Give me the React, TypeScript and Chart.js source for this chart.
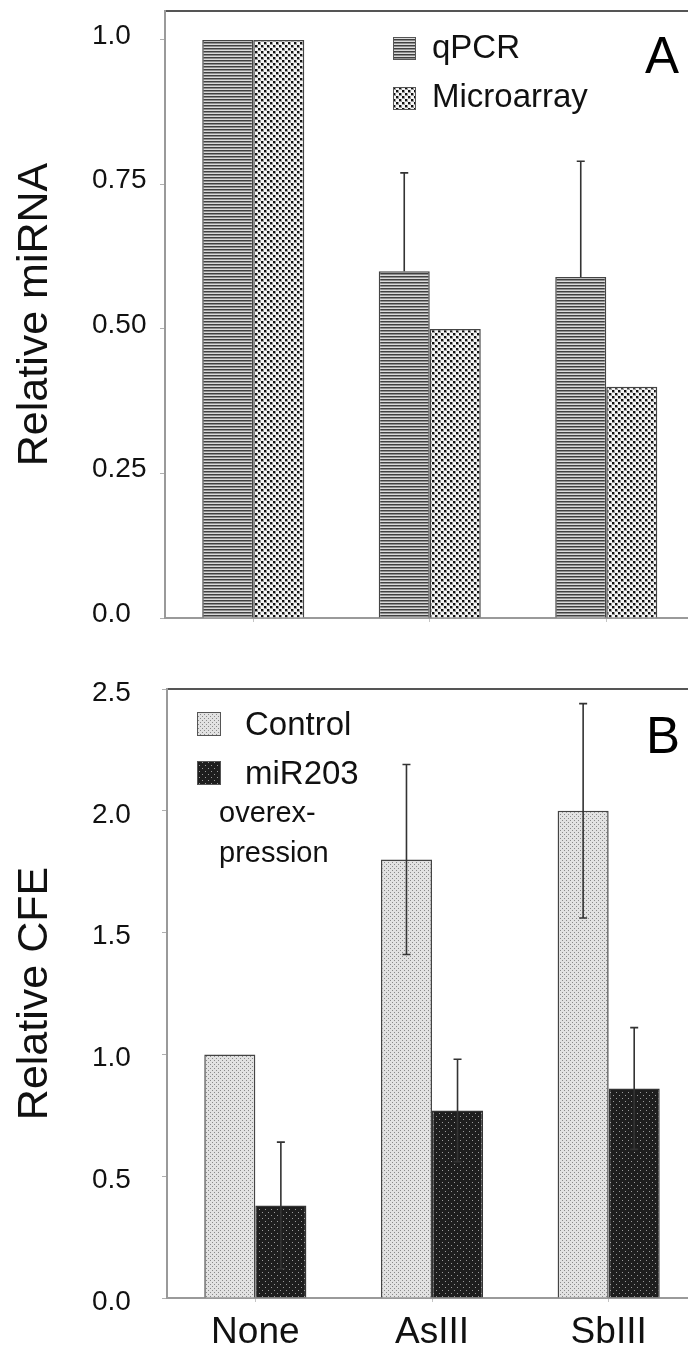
import React, { useEffect, useRef } from "react";
import { Chart, registerables } from "chart.js";

Chart.register(...registerables);

const FONT = "'Liberation Sans', Arial, Helvetica, sans-serif";

// ---------- data ----------
const categories = ["None", "AsIII", "SbIII"];

// Panel A
const qpcrValues = [1.0, 0.6, 0.59];
const qpcrErrors = [0, 0.17, 0.2];
const microarrayValues = [1.0, 0.5, 0.4];
const aTickValues = [0, 0.25, 0.5, 0.75, 1.0];
const aTickLabels = ["0.0", "0.25", "0.50", "0.75", "1.0"];

// Panel B
const controlValues = [1.0, 1.8, 2.0];
const controlErrors = [0, 0.39, 0.44];
const mir203Values = [0.38, 0.77, 0.86];
const mir203Errors = [0.26, 0.21, 0.25];
const bTickValues = [0, 0.5, 1.0, 1.5, 2.0, 2.5];
const bTickLabels = ["0.0", "0.5", "1.0", "1.5", "2.0", "2.5"];
const bLegendNote = ["overex-", "pression"];

// ---------- patterns ----------
function makePattern(w: number, h: number, draw: (c: CanvasRenderingContext2D) => void) {
  const cv = document.createElement("canvas");
  cv.width = w;
  cv.height = h;
  const c = cv.getContext("2d")!;
  draw(c);
  return c.createPattern(cv, "repeat")!;
}

function buildPatterns() {
  const stripes = makePattern(4, 3, (c) => {
    c.fillStyle = "#404040";
    c.fillRect(0, 0, 4, 1);
    c.fillStyle = "#8e8e8e";
    c.fillRect(0, 1, 4, 1);
    c.fillStyle = "#dadada";
    c.fillRect(0, 2, 4, 1);
  });
  const dots = makePattern(6, 6, (c) => {
    c.fillStyle = "#f6f6f6";
    c.fillRect(0, 0, 6, 6);
    c.fillStyle = "#9a9a9a";
    c.fillRect(0, 0, 3, 3);
    c.fillRect(3, 3, 3, 3);
    c.fillStyle = "#111";
    c.fillRect(0, 0, 2, 2);
    c.fillRect(3, 3, 2, 2);
  });
  const fine = makePattern(4, 4, (c) => {
    c.fillStyle = "#e2e2e2";
    c.fillRect(0, 0, 4, 4);
    c.fillStyle = "#8a8a8a";
    c.fillRect(0, 0, 1, 1);
    c.fillRect(2, 2, 1, 1);
  });
  const dark = makePattern(6, 6, (c) => {
    c.fillStyle = "#1e1e1e";
    c.fillRect(0, 0, 6, 6);
    c.fillStyle = "#9a9a9a";
    c.fillRect(1, 1, 1, 1);
    c.fillRect(4, 4, 1, 1);
  });
  return { stripes, dots, fine, dark };
}

// ---------- plugins ----------
const errorBarPlugin = {
  id: "errorBars",
  afterDatasetsDraw(chart: any) {
    const ctx = chart.ctx;
    const yScale = chart.scales.y;
    chart.data.datasets.forEach((ds: any, di: number) => {
      const errs = ds.errors;
      if (!errs) return;
      const meta = chart.getDatasetMeta(di);
      meta.data.forEach((bar: any, i: number) => {
        const e = errs[i];
        if (!e) return;
        const v = ds.data[i];
        const x = bar.x;
        const yTop = yScale.getPixelForValue(v + e);
        const yBot = ds.errorLower ? yScale.getPixelForValue(v - e) : yScale.getPixelForValue(v);
        ctx.save();
        ctx.strokeStyle = "#333";
        ctx.lineWidth = 1.6;
        ctx.beginPath();
        ctx.moveTo(x, yTop);
        ctx.lineTo(x, yBot);
        ctx.moveTo(x - 4, yTop);
        ctx.lineTo(x + 4, yTop);
        if (ds.errorLower) {
          ctx.moveTo(x - 4, yBot);
          ctx.lineTo(x + 4, yBot);
        }
        ctx.stroke();
        ctx.restore();
      });
    });
  },
};

function overlayPlugin(cfg: {
  swatches: { x: number; y: number; size: number }[];
  textX: number;
  textYs: number[];
  textSize: number;
  letter: string;
  letterX: number;
  letterY: number;
  notes?: { text: string; x: number; y: number; size: number }[];
}) {
  return {
    id: "overlay",
    afterDraw(chart: any) {
      const ctx = chart.ctx;
      ctx.save();
      chart.data.datasets.forEach((ds: any, i: number) => {
        const s = cfg.swatches[i];
        ctx.fillStyle = ds.backgroundColor;
        ctx.fillRect(s.x, s.y, s.size, s.size);
        ctx.strokeStyle = "#555";
        ctx.lineWidth = 1;
        ctx.strokeRect(s.x + 0.5, s.y + 0.5, s.size - 1, s.size - 1);
        ctx.fillStyle = "#111";
        ctx.font = `${cfg.textSize}px ${FONT}`;
        ctx.textAlign = "left";
        ctx.textBaseline = "middle";
        ctx.fillText(ds.label, cfg.textX, cfg.textYs[i]);
      });
      (cfg.notes || []).forEach((n) => {
        ctx.font = `${n.size}px ${FONT}`;
        ctx.textBaseline = "alphabetic";
        ctx.fillStyle = "#111";
        ctx.fillText(n.text, n.x, n.y);
      });
      ctx.font = `51px ${FONT}`;
      ctx.textBaseline = "alphabetic";
      ctx.fillStyle = "#000";
      ctx.fillText(cfg.letter, cfg.letterX, cfg.letterY);
      ctx.restore();
    },
  };
}

function baseScales(opts: {
  yMax: number;
  yTicks: number[];
  yLabels: string[];
  yTitle: string;
  yWidth: number;
  labelOffset: number;
  xHeight: number;
  showXLabels: boolean;
}) {
  return {
    x: {
      type: "category",
      position: "bottom",
      offset: true,
      grid: { display: true, drawOnChartArea: false, offset: false, tickLength: 4, color: "#c4c4c4" },
      border: { display: true, color: "#9a9a9a", width: 2 },
      ticks: {
        display: opts.showXLabels,
        color: "#111",
        padding: 9,
        font: { family: FONT, size: 37 },
        maxRotation: 0,
        autoSkip: false,
      },
      afterFit: (s: any) => {
        s.height = opts.xHeight;
        s.paddingLeft = 0;
        s.paddingRight = 0;
      },
    },
    xTop: {
      type: "category",
      position: "top",
      display: true,
      offset: true,
      grid: { display: false },
      ticks: { display: false },
      border: { display: true, color: "#555", width: 2 },
      afterFit: (s: any) => {
        s.height = 0;
        s.paddingLeft = 0;
        s.paddingRight = 0;
      },
    },
    y: {
      position: "left",
      min: 0,
      max: opts.yMax,
      afterBuildTicks: (s: any) => {
        s.ticks = opts.yTicks.map((v) => ({ value: v }));
      },
      ticks: {
        crossAlign: "far",
        color: "#111",
        font: { family: FONT, size: 28 },
        labelOffset: opts.labelOffset,
        callback: (v: number) => {
          const i = opts.yTicks.findIndex((t) => Math.abs(t - v) < 1e-9);
          return i >= 0 ? opts.yLabels[i] : "";
        },
      },
      grid: { drawOnChartArea: false, tickLength: 5, color: "#b0b0b0" },
      border: { display: true, color: "#9a9a9a", width: 2 },
      title: {
        display: true,
        text: opts.yTitle,
        color: "#111",
        font: { family: FONT, size: 43 },
        padding: { top: -83, bottom: 0 },
      },
      afterFit: (s: any) => {
        s.width = opts.yWidth;
        s.paddingTop = 0;
        s.paddingBottom = 0;
      },
    },
  };
}

export default function App() {
  const refA = useRef<HTMLCanvasElement>(null);
  const refB = useRef<HTMLCanvasElement>(null);

  useEffect(() => {
    Chart.defaults.font.family = FONT;
    const p = buildPatterns();

    const chartA = new Chart(refA.current!, {
      type: "bar",
      data: {
        labels: categories,
        datasets: [
          {
            label: "qPCR",
            data: qpcrValues,
            backgroundColor: p.stripes,
            borderColor: "#444",
            borderWidth: 1.5,
            errors: qpcrErrors,
            errorLower: false,
          } as any,
          {
            label: "Microarray",
            data: microarrayValues,
            backgroundColor: p.dots,
            borderColor: "#444",
            borderWidth: 1.5,
          } as any,
        ],
      },
      options: {
        animation: false,
        responsive: false,
        devicePixelRatio: 1,
        layout: { padding: { left: 92, right: 25.5, top: 11, bottom: 0 } },
        datasets: { bar: { categoryPercentage: 0.578, barPercentage: 1.0 } },
        plugins: { legend: { display: false }, tooltip: { enabled: false } },
        scales: baseScales({
          yMax: 1.05,
          yTicks: aTickValues,
          yLabels: aTickLabels,
          yTitle: "Relative miRNA",
          yWidth: 73,
          labelOffset: -4,
          xHeight: 32,
          showXLabels: false,
        }) as any,
      },
      plugins: [
        errorBarPlugin,
        overlayPlugin({
          swatches: [
            { x: 393, y: 37, size: 23 },
            { x: 393, y: 87, size: 23 },
          ],
          textX: 432,
          textYs: [49, 98],
          textSize: 33,
          letter: "A",
          letterX: 645,
          letterY: 73,
        }),
      ],
    });

    const chartB = new Chart(refB.current!, {
      type: "bar",
      data: {
        labels: categories,
        datasets: [
          {
            label: "Control",
            data: controlValues,
            backgroundColor: p.fine,
            borderColor: "#444",
            borderWidth: 1.5,
            errors: controlErrors,
            errorLower: true,
          } as any,
          {
            label: "miR203",
            data: mir203Values,
            backgroundColor: p.dark,
            borderColor: "#333",
            borderWidth: 1.5,
            errors: mir203Errors,
            errorLower: true,
          } as any,
        ],
      },
      options: {
        animation: false,
        responsive: false,
        devicePixelRatio: 1,
        layout: { padding: { left: 92, right: 23, top: 39, bottom: 0 } },
        datasets: { bar: { categoryPercentage: 0.578, barPercentage: 1.0 } },
        plugins: { legend: { display: false }, tooltip: { enabled: false } },
        scales: baseScales({
          yMax: 2.5,
          yTicks: bTickValues,
          yLabels: bTickLabels,
          yTitle: "Relative CFE",
          yWidth: 75,
          labelOffset: 4,
          xHeight: 53,
          showXLabels: true,
        }) as any,
      },
      plugins: [
        errorBarPlugin,
        overlayPlugin({
          swatches: [
            { x: 197, y: 62, size: 24 },
            { x: 197, y: 111, size: 24 },
          ],
          textX: 245,
          textYs: [76, 125],
          textSize: 33,
          letter: "B",
          letterX: 646,
          letterY: 103,
          notes: [
            { text: bLegendNote[0], x: 219, y: 172, size: 29 },
            { text: bLegendNote[1], x: 219, y: 212, size: 29 },
          ],
        }),
      ],
    });

    return () => {
      chartA.destroy();
      chartB.destroy();
    };
  }, []);

  return (
    <div
      style={{
        position: "absolute",
        left: 0,
        top: 0,
        width: 688,
        height: 1351,
        overflow: "hidden",
        background: "#fff",
      }}
    >
      <canvas ref={refA} width={720} height={650} style={{ position: "absolute", left: 0, top: 0 }} />
      <canvas ref={refB} width={720} height={701} style={{ position: "absolute", left: 0, top: 650 }} />
    </div>
  );
}
